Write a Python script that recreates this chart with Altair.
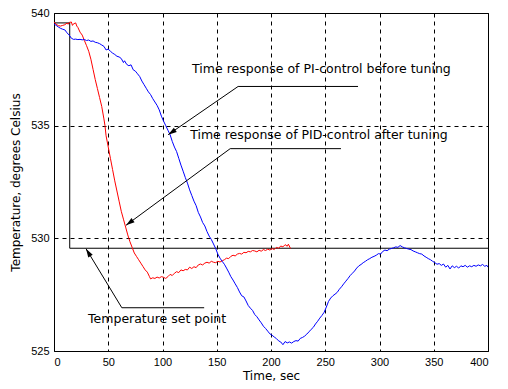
import math
import altair as alt
import pandas as pd

# ---------------- data ----------------
pid_t = [0, 2, 4, 6, 8, 10, 12, 13, 14, 16, 17, 18, 20, 21, 22, 24, 26, 28, 30, 32,
         34, 36, 38, 40, 42, 44, 46, 47, 48, 50, 52, 54, 56, 58, 60, 62, 64, 66, 68, 70,
         72, 74, 76, 78, 80, 82, 84, 86, 88, 89, 91, 93, 95, 97, 99, 101, 103, 105, 107, 109,
         111, 113, 115, 117, 119, 121, 123, 125, 127, 129, 131, 133, 135, 137, 139, 141, 143, 145, 147, 149,
         151, 153, 155, 157, 159, 161, 163, 165, 167, 169, 171, 173, 175, 177, 179, 181, 183, 185, 187, 189,
         191, 193, 195, 197, 199, 201, 203, 205, 207, 209, 211, 213, 215, 216, 218]
pid_T = [539.60, 539.50, 539.44, 539.42, 539.45, 539.48, 539.55, 539.50, 539.58, 539.60, 539.45, 539.52, 539.56, 539.42, 539.36, 539.15, 539.02, 538.78, 538.55, 538.30,
         537.95, 537.50, 537.05, 536.65, 536.25, 535.85, 535.30, 535.00, 534.55, 534.05, 533.55, 533.05, 532.55, 532.10, 531.65, 531.20, 530.85, 530.50, 530.15, 529.85,
         529.60, 529.35, 529.20, 529.05, 528.90, 528.75, 528.60, 528.50, 528.30, 528.20, 528.25, 528.22, 528.28, 528.24, 528.30, 528.27, 528.22, 528.30, 528.40, 528.35,
         528.45, 528.52, 528.48, 528.60, 528.56, 528.62, 528.60, 528.72, 528.66, 528.74, 528.70, 528.82, 528.86, 528.82, 528.90, 528.94, 528.90, 528.98, 528.94, 528.92,
         528.98, 528.95, 529.00, 529.05, 529.12, 529.10, 529.20, 529.25, 529.22, 529.30, 529.33, 529.30, 529.38, 529.36, 529.42, 529.40, 529.46, 529.44, 529.40, 529.47,
         529.43, 529.50, 529.46, 529.52, 529.48, 529.55, 529.50, 529.60, 529.56, 529.66, 529.62, 529.72, 529.65, 529.74, 529.55]

pi_t = [0, 2, 4, 6, 8, 10, 12, 14, 16, 18, 20, 22, 24, 26, 28, 30, 32, 34, 36, 38,
        40, 42, 44, 46, 48, 50, 52, 54, 56, 58, 60, 62, 64, 65, 67, 69, 71, 73, 75, 77,
        79, 81, 83, 85, 87, 89, 91, 93, 95, 97, 99, 101, 103, 105, 107, 109, 111, 113, 115, 117,
        119, 121, 123, 125, 127, 129, 131, 133, 135, 137, 139, 141, 143, 145, 147, 149, 151, 153, 155, 157,
        159, 161, 163, 165, 167, 169, 171, 173, 175, 177, 179, 181, 183, 185, 187, 189, 191, 193, 195, 197,
        199, 201, 203, 205, 207, 209, 211, 213, 215, 217, 219, 221, 223, 225, 227, 229, 231, 233, 235, 237,
        239, 241, 243, 245, 247, 249, 251, 253, 255, 257, 259, 261, 263, 265, 267, 269, 271, 273, 275, 277,
        279, 281, 283, 285, 287, 289, 291, 293, 295, 297, 299, 301, 303, 305, 307, 309, 311, 313, 315, 317,
        319, 321, 323, 325, 327, 329, 331, 333, 335, 337, 339, 341, 343, 345, 347, 349, 351, 353, 355, 357,
        359, 361, 363, 365, 367, 369, 371, 373, 375, 377, 379, 381, 383, 385, 387, 389, 391, 393, 395, 397,
        399, 400]
pi_T = [539.52, 539.45, 539.38, 539.32, 539.28, 539.25, 539.12, 539.02, 538.88, 538.83, 538.84, 538.82, 538.83, 538.81, 538.82, 538.78, 538.80, 538.74, 538.76, 538.70,
        538.68, 538.64, 538.58, 538.52, 538.36, 538.40, 538.30, 538.22, 538.16, 538.08, 538.05, 537.98, 537.80, 537.88, 537.72, 537.66, 537.70, 537.48, 537.42, 537.30,
        537.18, 536.98, 536.82, 536.66, 536.50, 536.38, 536.20, 536.05, 535.90, 535.70, 535.42, 535.20, 535.00, 534.80, 534.60, 534.30, 534.05, 533.85, 533.55, 533.25,
        532.98, 532.70, 532.45, 532.15, 531.90, 531.65, 531.45, 531.15, 530.95, 530.70, 530.55, 530.30, 530.10, 529.95, 529.75, 529.55, 529.30, 529.12, 528.98, 528.85,
        528.68, 528.50, 528.30, 528.15, 527.98, 527.82, 527.62, 527.45, 527.40, 527.22, 527.02, 526.90, 526.80, 526.62, 526.52, 526.38, 526.25, 526.10, 526.00, 525.88,
        525.76, 525.70, 525.62, 525.55, 525.45, 525.40, 525.28, 525.42, 525.36, 525.40, 525.35, 525.42, 525.46, 525.44, 525.56, 525.60, 525.66, 525.75, 525.85, 525.96,
        526.05, 526.20, 526.32, 526.46, 526.58, 526.72, 526.95, 527.20, 527.35, 527.45, 527.52, 527.60, 527.74, 527.85, 527.98, 528.10, 528.22, 528.35, 528.45, 528.55,
        528.68, 528.78, 528.84, 528.92, 528.98, 529.05, 529.10, 529.16, 529.20, 529.25, 529.32, 529.30, 529.42, 529.48, 529.45, 529.52, 529.55, 529.58, 529.62, 529.60,
        529.68, 529.62, 529.58, 529.55, 529.52, 529.50, 529.44, 529.40, 529.36, 529.32, 529.30, 529.22, 529.16, 529.10, 529.05, 528.98, 528.92, 528.85, 528.88, 528.80,
        528.86, 528.72, 528.80, 528.64, 528.78, 528.70, 528.76, 528.68, 528.78, 528.74, 528.80, 528.72, 528.78, 528.74, 528.80, 528.76, 528.82, 528.78, 528.84, 528.76,
        528.80, 528.72]

# set point (step)
sp_t = [0, 14.5, 14.5, 400]
sp_T = [539.56, 539.56, 529.56, 529.56]

# annotations: text, text anchor, and leader polyline (end, corner, arrow tip)
ann_text = ["Time response of PI-control before tuning",
            "Time response of PID-control after tuning",
            "Temperature set point"]
ann_text_t = [127.3, 125.5, 31.4]
ann_text_T = [537.53, 534.60, 526.42]
ann_line_t = [[280.2, 169.7, 105.2], [264.5, 162.4, 66.4], [138.4, 62.5, 29.5]]
ann_line_T = [[536.74, 536.74, 534.60], [533.98, 533.98, 530.58], [526.92, 526.92, 529.54]]

x_ticks = [0, 50, 100, 150, 200, 250, 300, 350, 400]
y_ticks = [525, 530, 535, 540]

# ---------------- chart ----------------
W, H = 434, 338
X0, X1, Y0, Y1 = 0, 400, 525, 540

xs = alt.Scale(domain=[X0, X1], nice=False, zero=False)
ys = alt.Scale(domain=[Y0, Y1], nice=False, zero=False)

xenc = alt.X("t:Q", scale=xs, axis=alt.Axis(
    values=x_ticks, title="Time, sec", grid=True, gridDash=[4, 4], gridColor="black",
    gridOpacity=1, ticks=False, domain=False, labelFont="Liberation Sans", labelFontSize=11,
    labelColor="black", labelPadding=5, titleFont="DejaVu Sans", titleFontSize=12,
    titleFontWeight="normal", titleColor="black", titleBaseline="alphabetic", titleY=28))
yenc = alt.Y("T:Q", scale=ys, axis=alt.Axis(
    values=y_ticks, title="Temperature, degrees Celsius", grid=True, gridDash=[4, 4],
    gridColor="black", gridOpacity=1, ticks=False, domain=False, labelFont="Liberation Sans",
    labelFontSize=11, labelColor="black", labelPadding=5, titleFont="DejaVu Sans",
    titleFontSize=12, titleFontWeight="normal", titleColor="black", titlePadding=8))

def series_df(ts, Ts, name):
    return pd.DataFrame({"t": ts, "T": Ts, "i": range(len(ts)), "s": name})

def base_line(df, color, w=1):
    return alt.Chart(df).mark_line(color=color, strokeWidth=w, clip=True).encode(
        x=alt.X("t:Q", scale=xs), y=alt.Y("T:Q", scale=ys), order="i:Q")

setpoint = alt.Chart(series_df(sp_t, sp_T, "sp")).mark_line(color="black", strokeWidth=1).encode(
    x=xenc, y=yenc, order="i:Q")
red = base_line(series_df(pid_t, pid_T, "pid"), "#ff0000")
blue = base_line(series_df(pi_t, pi_T, "pi"), "#0000ff")

# leader lines
rows = []
for k in range(len(ann_text)):
    for j in range(3):
        rows.append({"t": ann_line_t[k][j], "T": ann_line_T[k][j], "i": j, "k": k})
leaders = alt.Chart(pd.DataFrame(rows)).mark_line(color="black", strokeWidth=1).encode(
    x=alt.X("t:Q", scale=xs), y=alt.Y("T:Q", scale=ys), detail="k:N", order="i:Q")

# arrowheads oriented along the last leader segment
sx, sy = W / (X1 - X0), H / (Y1 - Y0)
heads = []
for k in range(len(ann_text)):
    dx = (ann_line_t[k][2] - ann_line_t[k][1]) * sx
    dy = -(ann_line_T[k][2] - ann_line_T[k][1]) * sy
    ang = math.degrees(math.atan2(dx, -dy)) % 360
    heads.append({"t": ann_line_t[k][2], "T": ann_line_T[k][2], "a": ang})
arrow = alt.Chart(pd.DataFrame(heads)).mark_point(
    shape="M0,0L0.3,1L-0.3,1Z", filled=True, color="black", opacity=1, size=300, strokeWidth=0
).encode(x=alt.X("t:Q", scale=xs), y=alt.Y("T:Q", scale=ys), angle=alt.Angle("a:Q", scale=None))

texts = alt.Chart(pd.DataFrame({"t": ann_text_t, "T": ann_text_T, "txt": ann_text})).mark_text(
    align="left", baseline="middle", font="DejaVu Sans", fontSize=12.5, color="black"
).encode(x=alt.X("t:Q", scale=xs), y=alt.Y("T:Q", scale=ys), text="txt:N")

chart = alt.layer(setpoint, red, blue, leaders, arrow, texts).properties(
    width=W, height=H,
    autosize=alt.AutoSizeParams(type="none"),
    padding={"left": 46, "top": 5, "right": 12, "bottom": 30},
    background="white",
).configure_view(stroke="black", strokeWidth=1)

chart.save("out.html", embed_options={"renderer": "svg", "actions": False})
